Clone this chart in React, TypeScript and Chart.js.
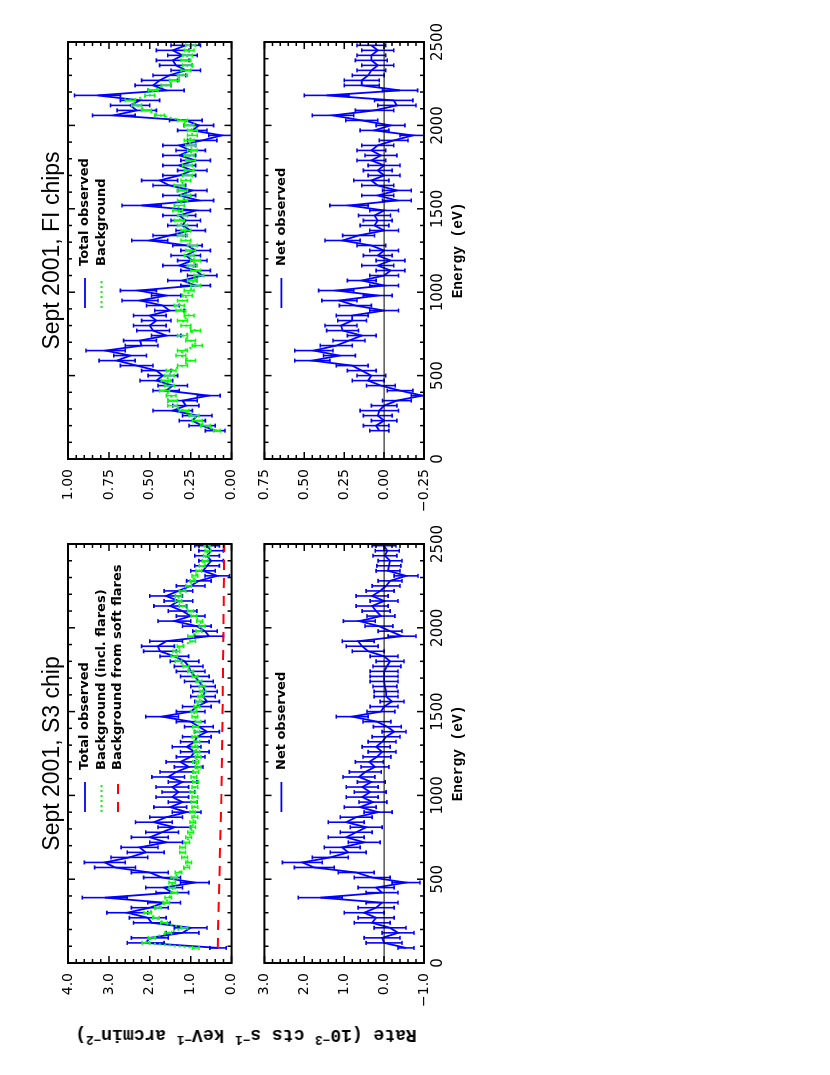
import React, { useEffect, useRef } from "react";
import { Chart, registerables } from "chart.js";

Chart.register(...registerables);

// ---------------- DATA ----------------
const S3_ENERGY = [
  90, 120, 150, 180, 210, 240, 270, 300, 330, 360,
  390, 420, 450, 480, 510, 540, 570, 600, 630, 660,
  690, 720, 750, 780, 810, 840, 870, 900, 930, 960,
  990, 1020, 1050, 1080, 1110, 1140, 1170, 1200, 1230, 1260,
  1290, 1320, 1350, 1380, 1410, 1440, 1470, 1500, 1530, 1560,
  1590, 1620, 1650, 1680, 1710, 1740, 1770, 1800, 1830, 1860,
  1890, 1920, 1950, 1980, 2010, 2040, 2070, 2100, 2130, 2160,
  2190, 2220, 2250, 2280, 2310, 2340, 2370, 2400, 2430, 2460,
  2490,
];
const S3_TOTAL = [
  0.33, 2.10, 2.00, 1.20, 1.00, 1.95, 2.05, 2.55, 2.00, 1.65,
  3.10, 1.45, 1.65, 0.90, 1.70, 2.00, 2.85, 3.10, 2.50, 2.10,
  2.25, 1.60, 2.00, 1.70, 1.40, 1.90, 1.60, 1.10, 1.50, 1.20,
  1.45, 1.30, 1.45, 1.20, 1.55, 1.35, 1.05, 1.25, 1.00, 0.90,
  1.10, 0.90, 0.85, 0.60, 0.80, 1.00, 1.70, 1.00, 0.85, 0.60,
  0.70, 0.65, 0.70, 0.80, 0.90, 1.00, 1.05, 1.15, 1.40, 1.75,
  1.80, 1.60, 0.55, 0.65, 0.85, 1.40, 1.00, 1.20, 1.50, 1.30,
  1.60, 1.30, 1.00, 0.80, 0.35, 0.70, 0.60, 0.50, 0.60, 0.50,
  0.60,
];
const S3_ERR = [
  0.20, 0.45, 0.45, 0.40, 0.40, 0.45, 0.45, 0.50, 0.45, 0.40,
  0.55, 0.40, 0.45, 0.35, 0.45, 0.45, 0.50, 0.50, 0.45, 0.45,
  0.45, 0.40, 0.45, 0.40, 0.40, 0.45, 0.40, 0.35, 0.40, 0.35,
  0.40, 0.40, 0.40, 0.35, 0.40, 0.40, 0.35, 0.35, 0.35, 0.35,
  0.35, 0.35, 0.35, 0.30, 0.35, 0.35, 0.40, 0.35, 0.35, 0.30,
  0.30, 0.30, 0.30, 0.35, 0.35, 0.35, 0.35, 0.35, 0.35, 0.40,
  0.40, 0.40, 0.35, 0.30, 0.35, 0.40, 0.35, 0.35, 0.40, 0.35,
  0.40, 0.35, 0.35, 0.30, 0.30, 0.30, 0.30, 0.30, 0.30, 0.30,
  0.30,
];
const S3_BACKGROUND = [
  0.88, 2.10, 1.95, 1.55, 1.15, 1.65, 1.85, 2.05, 1.80, 1.60,
  1.55, 1.40, 1.45, 1.45, 1.40, 1.30, 1.10, 1.05, 1.15, 1.20,
  1.20, 1.10, 1.05, 1.00, 0.95, 0.95, 0.90, 0.95, 0.90, 0.92,
  0.90, 0.95, 0.90, 0.88, 0.92, 0.88, 0.82, 0.88, 0.82, 0.85,
  0.90, 0.85, 0.90, 0.85, 0.88, 0.82, 0.90, 0.92, 0.85, 0.80,
  0.75, 0.70, 0.72, 0.80, 0.90, 1.00, 1.12, 1.30, 1.40, 1.35,
  1.25, 0.95, 1.00, 0.80, 0.72, 0.78, 0.92, 1.00, 1.20, 1.30,
  1.30, 1.20, 1.05, 0.95, 0.90, 0.80, 0.72, 0.65, 0.62, 0.58,
  0.60,
];
const S3_BACKGROUND_ERR = [
  0.08, 0.09, 0.09, 0.08, 0.08, 0.08, 0.08, 0.09, 0.08, 0.08,
  0.08, 0.08, 0.08, 0.08, 0.08, 0.08, 0.07, 0.07, 0.07, 0.07,
  0.07, 0.07, 0.07, 0.07, 0.07, 0.07, 0.07, 0.07, 0.07, 0.07,
  0.07, 0.07, 0.07, 0.07, 0.07, 0.07, 0.07, 0.07, 0.07, 0.07,
  0.07, 0.07, 0.07, 0.07, 0.07, 0.07, 0.07, 0.07, 0.07, 0.07,
  0.07, 0.07, 0.07, 0.07, 0.07, 0.07, 0.07, 0.08, 0.08, 0.08,
  0.08, 0.07, 0.07, 0.07, 0.07, 0.07, 0.07, 0.07, 0.08, 0.08,
  0.08, 0.08, 0.07, 0.07, 0.07, 0.07, 0.07, 0.07, 0.07, 0.07,
  0.07,
];
const S3_FLARE_ENERGY = [90, 500, 1000, 1500, 2000, 2500];
const S3_FLARE = [0.34, 0.30, 0.25, 0.22, 0.20, 0.18];
const S3_NET = [
  -0.55, 0.00, 0.05, -0.35, -0.15, 0.30, 0.20, 0.50, 0.20, 0.05,
  1.60, 0.05, 0.20, -0.55, 0.30, 0.70, 1.75, 2.05, 1.35, 0.90,
  1.05, 0.50, 0.95, 0.70, 0.45, 0.95, 0.70, 0.15, 0.60, 0.28,
  0.55, 0.35, 0.55, 0.32, 0.63, 0.47, 0.23, 0.37, 0.18, 0.05,
  0.20, 0.05, -0.05, -0.25, -0.08, 0.18, 0.80, 0.08, 0.00, -0.20,
  -0.05, -0.05, -0.02, 0.00, 0.00, 0.00, -0.07, -0.15, 0.00, 0.40,
  0.55, 0.65, -0.45, -0.15, 0.13, 0.62, 0.08, 0.20, 0.30, 0.00,
  0.30, 0.10, -0.05, -0.15, -0.55, -0.10, -0.12, -0.15, -0.02, -0.08,
  0.00,
];

const FI_ENERGY = [
  170, 200, 230, 260, 290, 320, 350, 380, 410, 440,
  470, 500, 530, 560, 590, 620, 650, 680, 710, 740,
  770, 800, 830, 860, 890, 920, 950, 980, 1010, 1040,
  1070, 1100, 1130, 1160, 1190, 1220, 1250, 1280, 1310, 1340,
  1370, 1400, 1430, 1460, 1490, 1520, 1550, 1580, 1610, 1640,
  1670, 1700, 1730, 1760, 1790, 1820, 1850, 1880, 1910, 1940,
  1970, 2000, 2030, 2060, 2090, 2120, 2150, 2180, 2210, 2240,
  2270, 2300, 2330, 2360, 2390, 2420, 2450, 2480,
];
const FI_TOTAL = [
  0.10, 0.18, 0.24, 0.21, 0.36, 0.28, 0.30, 0.14, 0.40, 0.36,
  0.46, 0.42, 0.46, 0.58, 0.70, 0.62, 0.77, 0.55, 0.56, 0.40,
  0.48, 0.50, 0.46, 0.50, 0.38, 0.42, 0.56, 0.40, 0.57, 0.22,
  0.30, 0.18, 0.22, 0.32, 0.24, 0.28, 0.22, 0.27, 0.50, 0.38,
  0.25, 0.30, 0.28, 0.32, 0.22, 0.55, 0.20, 0.32, 0.24, 0.38,
  0.44, 0.32, 0.24, 0.32, 0.22, 0.32, 0.25, 0.32, 0.18, 0.06,
  0.24, 0.20, 0.28, 0.72, 0.58, 0.62, 0.56, 0.82, 0.40, 0.48,
  0.44, 0.38, 0.28, 0.34, 0.36, 0.30, 0.36, 0.28,
];
const FI_ERR = [
  0.06, 0.08, 0.08, 0.09, 0.12, 0.08, 0.09, 0.07, 0.08, 0.09,
  0.10, 0.09, 0.09, 0.10, 0.11, 0.10, 0.12, 0.10, 0.10, 0.09,
  0.10, 0.10, 0.09, 0.10, 0.09, 0.10, 0.11, 0.09, 0.11, 0.09,
  0.09, 0.09, 0.09, 0.10, 0.09, 0.09, 0.09, 0.09, 0.11, 0.10,
  0.09, 0.09, 0.09, 0.10, 0.09, 0.12, 0.09, 0.10, 0.09, 0.10,
  0.11, 0.10, 0.09, 0.10, 0.09, 0.10, 0.09, 0.10, 0.09, 0.08,
  0.09, 0.09, 0.10, 0.13, 0.12, 0.12, 0.12, 0.14, 0.11, 0.11,
  0.11, 0.10, 0.09, 0.10, 0.10, 0.09, 0.10, 0.09,
];
const FI_BACKGROUND = [
  0.09, 0.16, 0.21, 0.23, 0.29, 0.36, 0.36, 0.37, 0.41, 0.38,
  0.40, 0.38, 0.37, 0.30, 0.25, 0.31, 0.30, 0.21, 0.25, 0.30,
  0.22, 0.28, 0.30, 0.26, 0.31, 0.32, 0.30, 0.27, 0.26, 0.22,
  0.24, 0.20, 0.22, 0.24, 0.22, 0.26, 0.25, 0.24, 0.28, 0.30,
  0.28, 0.30, 0.32, 0.30, 0.33, 0.32, 0.30, 0.28, 0.30, 0.32,
  0.28, 0.27, 0.26, 0.27, 0.25, 0.26, 0.24, 0.25, 0.26, 0.24,
  0.24, 0.26, 0.30, 0.44, 0.52, 0.58, 0.62, 0.50, 0.48, 0.40,
  0.35, 0.30, 0.28, 0.27, 0.28, 0.27, 0.26, 0.25,
];
const FI_BACKGROUND_ERR = [
  0.02, 0.03, 0.03, 0.03, 0.03, 0.03, 0.03, 0.03, 0.03, 0.03,
  0.03, 0.03, 0.03, 0.03, 0.03, 0.03, 0.03, 0.03, 0.03, 0.03,
  0.03, 0.03, 0.03, 0.03, 0.03, 0.03, 0.03, 0.03, 0.03, 0.03,
  0.03, 0.03, 0.03, 0.03, 0.03, 0.03, 0.03, 0.03, 0.03, 0.03,
  0.03, 0.03, 0.03, 0.03, 0.03, 0.03, 0.03, 0.03, 0.03, 0.03,
  0.03, 0.03, 0.03, 0.03, 0.03, 0.03, 0.03, 0.03, 0.03, 0.03,
  0.03, 0.03, 0.03, 0.03, 0.03, 0.03, 0.03, 0.03, 0.03, 0.03,
  0.03, 0.03, 0.03, 0.03, 0.03, 0.03, 0.03, 0.03,
];
const FI_NET = [
  0.03, 0.05, 0.00, 0.04, 0.03, 0.00, -0.08, -0.24, -0.10, 0.02,
  0.10, 0.08, 0.14, 0.20, 0.45, 0.28, 0.44, 0.30, 0.22, 0.14,
  0.26, 0.27, 0.20, 0.20, 0.00, 0.18, 0.28, 0.04, 0.30, 0.00,
  0.14, 0.00, -0.04, 0.04, -0.04, 0.04, 0.00, 0.08, 0.26, 0.16,
  0.00, 0.06, 0.04, 0.06, 0.00, 0.22, -0.08, 0.04, -0.08, 0.04,
  0.08, 0.00, 0.04, 0.00, 0.08, 0.02, 0.08, 0.04, -0.06, -0.18,
  0.06, -0.04, 0.14, 0.32, 0.06, -0.08, -0.06, 0.36, -0.10, 0.14,
  0.14, 0.10, 0.08, 0.04, 0.08, 0.08, 0.04, 0.08,
];

const ENERGY_TICK_STEP = 500;
const S3_TITLE = "Sept 2001, S3 chip";
const FI_TITLE = "Sept 2001, FI chips";

// ---------------- STYLE ----------------
const BLUE = "#0000ff";
const GREEN = "#00ff00";
const RED = "#ff0000";
const TICK_FONT = "'DejaVu Sans'";
const MONO_FONT = "'Liberation Mono'";

const pts = (xs: number[], ys: number[]) => xs.map((x, i) => ({ x, y: ys[i] }));

// ---------------- PLUGINS ----------------
const errorBarPlugin = {
  id: "errorBars",
  afterDatasetDraw(chart: any, args: any) {
    const ds = chart.data.datasets[args.index];
    if (!ds.errors) return;
    const { ctx, chartArea: a } = chart;
    const xs = chart.scales.x;
    const ys = chart.scales.y;
    ctx.save();
    ctx.beginPath();
    ctx.rect(a.left, a.top, a.right - a.left, a.bottom - a.top);
    ctx.clip();
    ctx.strokeStyle = ds.borderColor;
    ctx.lineWidth = ds.errWidth || 1.5;
    ctx.setLineDash([]);
    const c = ds.capHalf || 2;
    ctx.beginPath();
    ds.data.forEach((p: any, i: number) => {
      const e = ds.errors[i];
      if (e == null) return;
      const px = xs.getPixelForValue(p.x);
      const y1 = ys.getPixelForValue(p.y - e);
      const y2 = ys.getPixelForValue(p.y + e);
      ctx.moveTo(px, y1);
      ctx.lineTo(px, y2);
      ctx.moveTo(px - c, y1);
      ctx.lineTo(px + c, y1);
      ctx.moveTo(px - c, y2);
      ctx.lineTo(px + c, y2);
    });
    ctx.stroke();
    ctx.restore();
  },
};

const framePlugin = {
  id: "frame",
  afterDatasetsDraw(chart: any, _args: any, o: any) {
    const { ctx, chartArea: a } = chart;
    const xs = chart.scales.x;
    const ys = chart.scales.y;
    ctx.save();
    ctx.setLineDash([]);
    ctx.strokeStyle = "#000";
    if (o.zeroLine) {
      ctx.lineWidth = 1;
      const py = ys.getPixelForValue(0);
      ctx.beginPath();
      ctx.moveTo(a.left, py);
      ctx.lineTo(a.right, py);
      ctx.stroke();
    }
    ctx.lineWidth = 1.5;
    ctx.beginPath();
    const nx = Math.round((xs.max - xs.min) / o.xMinor);
    for (let i = 0; i <= nx; i++) {
      const v = xs.min + i * o.xMinor;
      const r = v / o.xMajor;
      const L = Math.abs(r - Math.round(r)) < 1e-6 ? o.major : o.minor;
      const px = xs.getPixelForValue(v);
      ctx.moveTo(px, a.top);
      ctx.lineTo(px, a.top + L);
      ctx.moveTo(px, a.bottom);
      ctx.lineTo(px, a.bottom - L);
    }
    const ny = Math.round((ys.max - ys.min) / o.yMinor);
    for (let i = 0; i <= ny; i++) {
      const v = ys.min + i * o.yMinor;
      const r = v / o.yMajor;
      const L = Math.abs(r - Math.round(r)) < 1e-6 ? o.major : o.minor;
      const py = ys.getPixelForValue(v);
      ctx.moveTo(a.left, py);
      ctx.lineTo(a.left + L, py);
      ctx.moveTo(a.right, py);
      ctx.lineTo(a.right - L, py);
    }
    ctx.stroke();
    ctx.lineWidth = 2;
    ctx.strokeRect(a.left, a.top, a.right - a.left, a.bottom - a.top);
    ctx.restore();
  },
};

const innerLegendPlugin = {
  id: "innerLegend",
  afterDraw(chart: any, _args: any, o: any) {
    const { ctx, chartArea: a } = chart;
    const items = chart.data.datasets.filter((d: any) => d.label);
    ctx.save();
    ctx.font = `bold 13px ${TICK_FONT}`;
    ctx.textBaseline = "middle";
    ctx.textAlign = "left";
    ctx.fillStyle = "#000";
    items.forEach((d: any, i: number) => {
      const y = a.top + o.top + i * o.row;
      const x0 = a.left + o.left;
      ctx.strokeStyle = d.borderColor;
      ctx.lineWidth = d.borderWidth;
      ctx.setLineDash(d.borderDash || []);
      ctx.beginPath();
      ctx.moveTo(x0, y);
      ctx.lineTo(x0 + o.len, y);
      ctx.stroke();
      ctx.fillText(d.label, x0 + o.len + o.gap, y);
    });
    ctx.restore();
  },
};

// ---------------- CHART BUILDER ----------------
type Panel = {
  datasets: any[];
  yMin: number;
  yMax: number;
  yMajor: number;
  yMinor: number;
  decimals: number;
  title?: string;
  bottomAxis: boolean;
  zeroLine: boolean;
  yAxisWidth: number;
  xAxisHeight: number;
  padding: { top: number; right: number; bottom: number; left: number };
};

const fmt = (v: number, d: number) => {
  const s = Math.abs(v).toFixed(d);
  return v < -1e-9 ? "\u2212" + s : s;
};

function buildChart(canvas: HTMLCanvasElement, p: Panel) {
  return new Chart(canvas, {
    type: "line",
    data: { datasets: p.datasets },
    plugins: [errorBarPlugin, framePlugin, innerLegendPlugin] as any,
    options: {
      responsive: false,
      animation: false,
      devicePixelRatio: 1,
      layout: { padding: p.padding },
      elements: { point: { radius: 0 }, line: { tension: 0 } },
      plugins: {
        legend: { display: false },
        tooltip: { enabled: false },
        title: p.title
          ? {
              display: true,
              text: p.title,
              fullSize: false,
              color: "#000",
              font: { family: "'Liberation Sans'", size: 23, weight: "normal", lineHeight: 1.2 },
              padding: { top: 39, bottom: 1.4 },
            }
          : { display: false },
        frame: {
          xMajor: ENERGY_TICK_STEP,
          xMinor: 100,
          yMajor: p.yMajor,
          yMinor: p.yMinor,
          major: 7,
          minor: 4,
          zeroLine: p.zeroLine,
        },
        innerLegend: { left: 151, top: 17, row: 16.5, len: 30, gap: 12 },
      } as any,
      scales: {
        x: {
          type: "linear",
          min: 0,
          max: 2500,
          position: "bottom",
          display: p.bottomAxis,
          grid: { display: false, drawTicks: false },
          border: { display: false },
          ticks: {
            stepSize: ENERGY_TICK_STEP,
            padding: 5,
            color: "#000",
            autoSkip: false,
            maxRotation: 0,
            font: { family: TICK_FONT, size: 15 },
            callback: (v: any) => String(v),
          },
          title: {
            display: true,
            text: "Energy (eV)",
            color: "#000",
            font: { family: MONO_FONT, size: 14.5, weight: "bold", lineHeight: 1.2 },
            padding: { top: 0, bottom: 19 },
          },
          afterFit: (s: any) => {
            s.height = p.xAxisHeight;
          },
        },
        y: {
          type: "linear",
          min: p.yMin,
          max: p.yMax,
          position: "left",
          grid: { display: false, drawTicks: false },
          border: { display: false },
          ticks: {
            stepSize: p.yMajor,
            padding: 10,
            color: "#000",
            autoSkip: false,
            font: { family: TICK_FONT, size: 14 },
            callback: (v: any) => fmt(Number(v), p.decimals),
          },
          afterFit: (s: any) => {
            s.width = p.yAxisWidth;
          },
        },
      } as any,
    } as any,
  });
}

const totalDs = (label: string, e: number[], v: number[], err: number[]) => ({
  label,
  data: pts(e, v),
  errors: err,
  borderColor: BLUE,
  backgroundColor: BLUE,
  borderWidth: 1.8,
  errWidth: 1.6,
  capHalf: 2,
  order: 3,
  fill: false,
});
const bgDs = (label: string, e: number[], v: number[], err: number[]) => ({
  label,
  data: pts(e, v),
  errors: err,
  borderColor: GREEN,
  backgroundColor: GREEN,
  borderWidth: 2,
  borderDash: [2, 3],
  errWidth: 1.5,
  capHalf: 2,
  order: 2,
  fill: false,
});

export default function App() {
  const r1 = useRef<HTMLCanvasElement>(null);
  const r2 = useRef<HTMLCanvasElement>(null);
  const r3 = useRef<HTMLCanvasElement>(null);
  const r4 = useRef<HTMLCanvasElement>(null);

  useEffect(() => {
    const charts: Chart[] = [];
    charts.push(
      buildChart(r1.current!, {
        datasets: [
          totalDs("Total observed", S3_ENERGY, S3_TOTAL, S3_ERR),
          bgDs("Background (incl. flares)", S3_ENERGY, S3_BACKGROUND, S3_BACKGROUND_ERR),
          {
            label: "Background from soft flares",
            data: pts(S3_FLARE_ENERGY, S3_FLARE),
            borderColor: RED,
            backgroundColor: RED,
            borderWidth: 2,
            borderDash: [10, 8],
            order: 1,
            fill: false,
          },
        ],
        yMin: 0,
        yMax: 4,
        yMajor: 1,
        yMinor: 0.2,
        decimals: 1,
        title: S3_TITLE,
        bottomAxis: false,
        zeroLine: false,
        yAxisWidth: 112,
        xAxisHeight: 0,
        padding: { top: 0, right: 29, bottom: 13, left: 0 },
      })
    );
    charts.push(
      buildChart(r2.current!, {
        datasets: [totalDs("Net observed", S3_ENERGY, S3_NET, S3_ERR)],
        yMin: -1,
        yMax: 3,
        yMajor: 1,
        yMinor: 0.2,
        decimals: 1,
        bottomAxis: true,
        zeroLine: true,
        yAxisWidth: 112,
        xAxisHeight: 62,
        padding: { top: 12, right: 29, bottom: 0, left: 0 },
      })
    );
    charts.push(
      buildChart(r3.current!, {
        datasets: [
          totalDs("Total observed", FI_ENERGY, FI_TOTAL, FI_ERR),
          bgDs("Background", FI_ENERGY, FI_BACKGROUND, FI_BACKGROUND_ERR),
        ],
        yMin: 0,
        yMax: 1,
        yMajor: 0.25,
        yMinor: 0.05,
        decimals: 2,
        title: FI_TITLE,
        bottomAxis: false,
        zeroLine: false,
        yAxisWidth: 56,
        xAxisHeight: 0,
        padding: { top: 0, right: 42, bottom: 16, left: 0 },
      })
    );
    charts.push(
      buildChart(r4.current!, {
        datasets: [totalDs("Net observed", FI_ENERGY, FI_NET, FI_ERR)],
        yMin: -0.25,
        yMax: 0.75,
        yMajor: 0.25,
        yMinor: 0.05,
        decimals: 2,
        bottomAxis: true,
        zeroLine: true,
        yAxisWidth: 56,
        xAxisHeight: 62,
        padding: { top: 12, right: 42, bottom: 0, left: 0 },
      })
    );
    return () => charts.forEach((c) => c.destroy());
  }, []);

  const abs = (left: number, top: number): React.CSSProperties => ({
    position: "absolute",
    left,
    top,
  });
  const sup: React.CSSProperties = { fontSize: "0.7em", verticalAlign: "0.45em", lineHeight: 0 };

  return (
    <div
      style={{
        position: "fixed",
        left: 0,
        top: 0,
        width: 830,
        height: 1075,
        overflow: "hidden",
        background: "#fff",
      }}
    >
      <div
        style={{
          position: "absolute",
          left: 0,
          top: 0,
          width: 1075,
          height: 830,
          transformOrigin: "0 0",
          transform: "translate(0px, 1075px) rotate(-90deg)",
        }}
      >
        <canvas ref={r1} width={560} height={250} style={abs(0, 0)} />
        <canvas ref={r2} width={560} height={240} style={abs(0, 246)} />
        <canvas ref={r3} width={515} height={250} style={abs(560, 0)} />
        <canvas ref={r4} width={515} height={240} style={abs(560, 246)} />
        <div
          style={{
            position: "absolute",
            left: 40,
            top: 246,
            transform: "translate(-50%, -50%) rotate(-90deg)",
            whiteSpace: "nowrap",
            font: `bold 18px ${MONO_FONT}`,
            color: "#000",
          }}
        >
          Rate (10<span style={sup}>−3</span> cts s<span style={sup}>−1</span> keV
          <span style={sup}>−1</span> arcmin<span style={sup}>−2</span>)
        </div>
      </div>
    </div>
  );
}
